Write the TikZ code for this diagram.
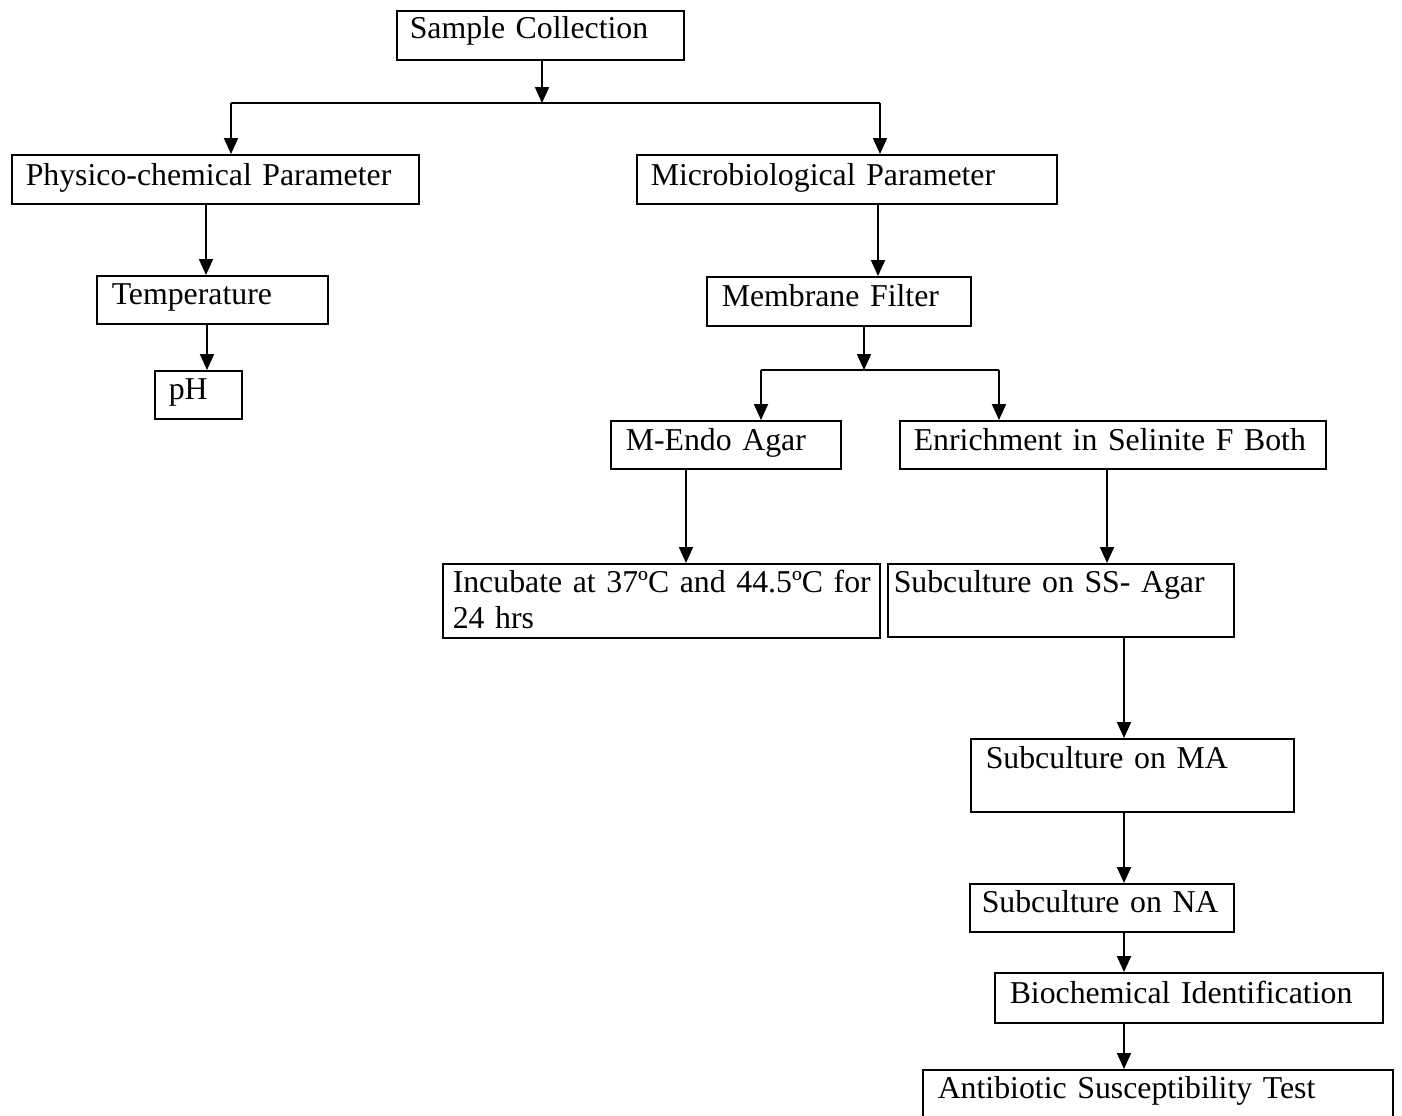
\documentclass[tikz,border=0pt]{standalone}
\usepackage{fontspec}
\setmainfont{Liberation Serif}
\usetikzlibrary{arrows.meta,positioning}

\begin{document}
\begin{tikzpicture}[x=0.5pt,y=-0.5pt,
    box/.style={draw,line width=0.75pt,anchor=north west,align=left,inner ysep=0pt,inner xsep=7.5pt,
        font=\fontsize{15.9}{18}\selectfont},
    arr/.style={line width=1pt,-{Triangle[width=7pt,length=8pt]}}]
        \useasboundingbox (0,0) rectangle (1402,1115);

        \node[box,inner xsep=6.5pt,text width=130.5pt,text height=14pt,text depth=10.5pt] at (396,10) (sample) {Sample Collection};
        \node[box,inner xsep=7pt,text width=189.5pt,text height=15.5pt,text depth=9pt] at (11,154) (phys) {Physico-chemical Parameter};
        \node[box,text width=100.5pt,text height=14.5pt,text depth=9.5pt] at (96,275) (temp) {Temperature};
        \node[box,inner xsep=7pt,text width=29.5pt,text height=14.5pt,text depth=9.5pt] at (154,370) (ph) {pH};
        \node[box,inner xsep=7pt,text width=196pt,text height=15.5pt,text depth=9pt] at (636,154) (micro) {Microbiological Parameter};
        \node[box,text width=117pt,text height=15pt,text depth=9.5pt] at (706,276) (membrane) {Membrane Filter};
        \node[box,text width=100pt,text height=15pt,text depth=9pt] at (610,420) (mendo) {M-Endo Agar};
        \node[box,inner xsep=7pt,text width=199pt,text height=15pt,text depth=9pt] at (899,420) (enrich) {Enrichment in Selinite F Both};
        \node[box,inner xsep=5pt,text width=208.5pt,text height=14.5pt,text depth=22.5pt] at (442,563) (incub) {\mbox{Incubate at 37ºC and 44.5ºC for}\\24 hrs};
        \node[box,inner xsep=3pt,text width=167pt,text height=14.5pt,text depth=22pt] at (887,563) (ss) {Subculture on SS- Agar};
        \node[box,text width=146.5pt,text height=15pt,text depth=21.5pt] at (970,738) (ma) {Subculture on MA};
        \node[box,inner xsep=6pt,text width=120pt,text height=14.5pt,text depth=9.5pt] at (969,883) (na) {\mbox{Subculture on NA}};
        \node[box,text width=179pt,text height=15.5pt,text depth=9.5pt] at (994,972) (bio) {Biochemical Identification};
        \node[box,text width=220pt,text height=14.5pt,text depth=12pt] at (922,1069) (anti) {Antibiotic Susceptibility Test};

        % first split
        \coordinate (j1) at (542,103);
        \coordinate (j1l) at (231,103);
        \coordinate (j1r) at (880,103);
        \draw[arr] (sample.south -| j1) -- (j1);
        \draw[line width=1pt] (j1l) -- (j1r);
        \draw[arr] (j1l) -- (phys.north -| j1l);
        \draw[arr] (j1r) -- (micro.north -| j1r);

        \draw[arr] (phys.south -| 206,0) -- (temp.north -| 206,0);
        \draw[arr] (temp.south -| 207,0) -- (ph.north -| 207,0);
        \draw[arr] (micro.south -| 878,0) -- (membrane.north -| 878,0);

        % second split
        \coordinate (j2) at (864,370);
        \coordinate (j2l) at (761,370);
        \coordinate (j2r) at (999,370);
        \draw[arr] (membrane.south -| j2) -- (j2);
        \draw[line width=1pt] (j2l) -- (j2r);
        \draw[arr] (j2l) -- (mendo.north -| j2l);
        \draw[arr] (j2r) -- (enrich.north -| j2r);

        \draw[arr] (mendo.south -| 686,0) -- (incub.north -| 686,0);
        \draw[arr] (enrich.south -| 1107,0) -- (ss.north -| 1107,0);
        \draw[arr] (ss.south -| 1124,0) -- (ma.north -| 1124,0);
        \draw[arr] (ma.south -| 1124,0) -- (na.north -| 1124,0);
        \draw[arr] (na.south -| 1124,0) -- (bio.north -| 1124,0);
        \draw[arr] (bio.south -| 1124,0) -- (anti.north -| 1124,0);
    \end{tikzpicture}
\end{document}
